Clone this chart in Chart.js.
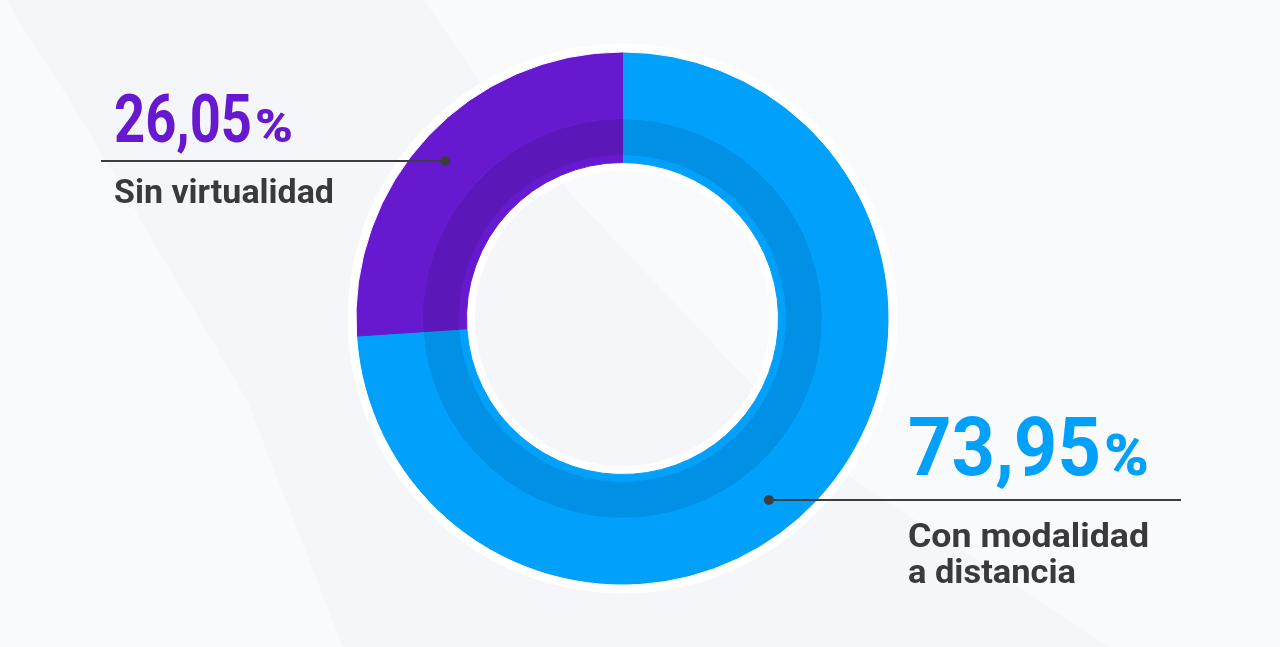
<!DOCTYPE html>
<html>
<head>
<meta charset="utf-8">
<script src="https://cdn.jsdelivr.net/npm/chart.js@4.4.1/dist/chart.umd.min.js"></script>
<style>
  html, body { margin: 0; padding: 0; background: #f5f6f9; overflow: hidden; }
  canvas { display: block; }
</style>
</head>
<body>
<canvas id="chart" width="1280" height="647"></canvas>
<script>
  const labels = ['Con modalidad a distancia', 'Sin virtualidad'];
  const labelLines = [['Con modalidad', 'a distancia'], ['Sin virtualidad']];
  const values = [73.95, 26.05];
  const mainColors = ['#00a0fb', '#6619cf'];
  const bandColors = ['#0090e5', '#5c17b9'];
  const textColors = ['#00a0fb', '#6619cf'];

  const white = ['#ffffff', '#ffffff'];

  // light diagonal shapes behind the chart
  const bgPlugin = {
    id: 'bg',
    beforeDraw(chart) {
      const ctx = chart.ctx;
      ctx.save();
      ctx.fillStyle = '#f9fafc';
      ctx.fillRect(0, 0, chart.width, chart.height);
      ctx.fillStyle = '#f5f6f9';
      ctx.beginPath();
      ctx.moveTo(6, 0);
      ctx.lineTo(424, 0);
      ctx.lineTo(478, 80);
      ctx.lineTo(570, 193);
      ctx.lineTo(750, 383);
      ctx.lineTo(844, 473);
      ctx.lineTo(1109, 647);
      ctx.lineTo(343, 647);
      ctx.lineTo(247, 400);
      ctx.lineTo(82, 120);
      ctx.closePath();
      ctx.fill();
      ctx.restore();
    }
  };

  function fitText(ctx, txt, x, y, w) {
    const m = ctx.measureText(txt).width;
    ctx.save();
    ctx.translate(x, y);
    ctx.scale(w / m, 1);
    ctx.fillText(txt, 0, 0);
    ctx.restore();
  }

  // leader lines, dots and labels
  const layout = [
    { lineY: 500, lineEnd: 1181, side: 1, rOff: 0, x: 908, numW: 193, pctW: 45, numBase: 475, numSize: 82, pctSize: 58,
      lineW: [241, 168], base: [547, 583] },
    { lineY: 161, lineEnd: 101, side: -1, rOff: 4, x: 114, numW: 138, pctW: 38, numBase: 142, numSize: 66, pctSize: 46,
      lineW: [220], base: [203] }
  ];

  const labelPlugin = {
    id: 'labels',
    afterDatasetsDraw(chart) {
      const ctx = chart.ctx;
      const meta = chart.getDatasetMeta(1);
      ctx.save();
      meta.data.forEach((arc, i) => {
        const L = layout[i];
        const r = (arc.innerRadius + arc.outerRadius) / 2 + L.rOff;
        const dy = L.lineY - arc.y;
        const dotX = arc.x + L.side * Math.sqrt(r * r - dy * dy);

        ctx.strokeStyle = '#3d3d40';
        ctx.lineWidth = 2;
        ctx.beginPath();
        ctx.moveTo(dotX, L.lineY);
        ctx.lineTo(L.lineEnd, L.lineY);
        ctx.stroke();
        ctx.fillStyle = '#3d3d40';
        ctx.beginPath();
        ctx.arc(dotX, L.lineY, 5, 0, Math.PI * 2);
        ctx.fill();

        const num = values[i].toFixed(2).replace('.', ',');
        ctx.fillStyle = textColors[i];
        ctx.textBaseline = 'alphabetic';
        ctx.font = '700 ' + L.numSize + 'px Roboto';
        fitText(ctx, num, L.x, L.numBase, L.numW);
        ctx.font = '900 ' + L.pctSize + 'px Roboto';
        fitText(ctx, '%', L.x + L.numW + 3, L.numBase, L.pctW);

        ctx.fillStyle = '#3a3a3d';
        ctx.font = '700 34px Roboto';
        labelLines[i].forEach((t, j) => fitText(ctx, t, L.x, L.base[j], L.lineW[j]));
      });
      ctx.restore();
    }
  };

  new Chart(document.getElementById('chart'), {
    type: 'doughnut',
    data: {
      labels: labels,
      datasets: [
        { data: values, backgroundColor: white, borderColor: white, borderWidth: 1, weight: 8 },
        { data: values, backgroundColor: mainColors, borderColor: mainColors, borderWidth: 1, weight: 67 },
        { data: values, backgroundColor: bandColors, borderColor: bandColors, borderWidth: 1, weight: 36 },
        { data: values, backgroundColor: mainColors, borderColor: mainColors, borderWidth: 1, weight: 8 },
        { data: values, backgroundColor: white, borderColor: white, borderWidth: 1, weight: 8 }
      ]
    },
    options: {
      responsive: false,
      animation: false,
      cutout: 148,
      layout: { padding: { left: 347.5, right: 382.5, top: 43.5, bottom: 53.5 } },
      plugins: { legend: { display: false }, tooltip: { enabled: false } }
    },
    plugins: [bgPlugin, labelPlugin]
  });
</script>
</body>
</html>
